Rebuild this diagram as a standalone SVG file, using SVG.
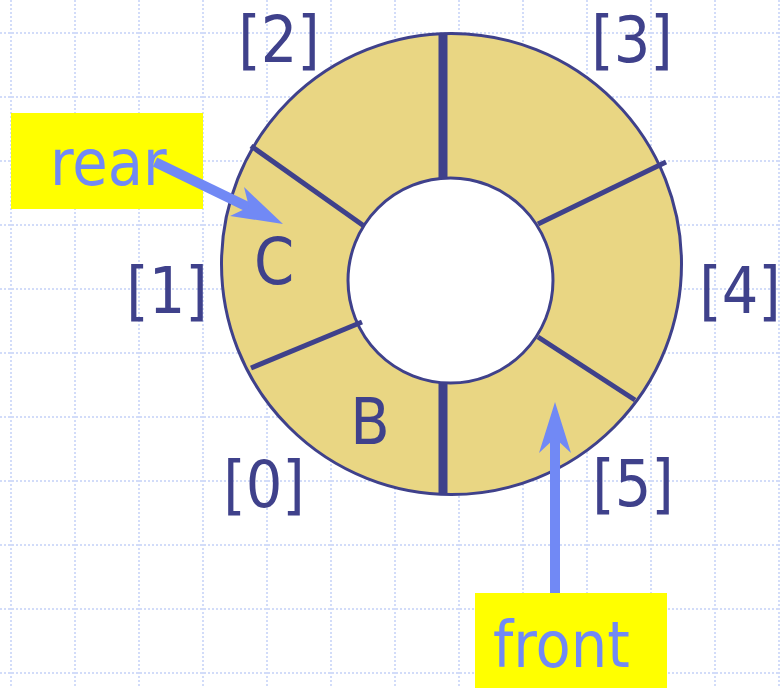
<svg xmlns="http://www.w3.org/2000/svg" width="780" height="688" viewBox="0 0 780 688">
<style>
.grid line{stroke:#d2dcf9;stroke-width:2;stroke-dasharray:2 2}
.lbl{font-family:"DejaVu Sans Condensed","DejaVu Sans",sans-serif;font-size:64px;fill:#3f418b;text-anchor:middle}
.ptr{font-family:"DejaVu Sans Condensed","DejaVu Sans",sans-serif;font-size:64px;fill:#7189f5}
.div{stroke:#3f418b;stroke-width:5}
.vdiv{stroke:#3f418b;stroke-width:9}
.shaft{stroke:#7189f5;stroke-width:10;fill:none}
.head{fill:#7189f5}
.box{fill:#ffff00}
</style>
<rect width="780" height="688" fill="#ffffff"/>
<g class="grid" id="grid">
<line x1="11" y1="0" x2="11" y2="688"/><line x1="75" y1="0" x2="75" y2="688"/><line x1="139" y1="0" x2="139" y2="688"/><line x1="203" y1="0" x2="203" y2="688"/><line x1="267" y1="0" x2="267" y2="688"/><line x1="331" y1="0" x2="331" y2="688"/><line x1="395" y1="0" x2="395" y2="688"/><line x1="459" y1="0" x2="459" y2="688"/><line x1="523" y1="0" x2="523" y2="688"/><line x1="587" y1="0" x2="587" y2="688"/><line x1="651" y1="0" x2="651" y2="688"/><line x1="715" y1="0" x2="715" y2="688"/><line x1="779" y1="0" x2="779" y2="688"/>
<line x1="0" y1="33" x2="780" y2="33"/><line x1="0" y1="97" x2="780" y2="97"/><line x1="0" y1="161" x2="780" y2="161"/><line x1="0" y1="225" x2="780" y2="225"/><line x1="0" y1="289" x2="780" y2="289"/><line x1="0" y1="353" x2="780" y2="353"/><line x1="0" y1="417" x2="780" y2="417"/><line x1="0" y1="481" x2="780" y2="481"/><line x1="0" y1="545" x2="780" y2="545"/><line x1="0" y1="609" x2="780" y2="609"/><line x1="0" y1="673" x2="780" y2="673"/>
</g>
<g id="rear-box"><rect class="box" x="11" y="113" width="192" height="96"/><text class="ptr" x="50" y="185">rear</text></g>
<g id="front-box"><rect class="box" x="475" y="593" width="192" height="95"/><text class="ptr" x="493" y="667">front</text></g>
<g id="ring">
<ellipse cx="451.5" cy="264" rx="230" ry="230.5" fill="#e9d683" stroke="#3f418b" stroke-width="3"/>
<circle cx="450.5" cy="280.5" r="102.5" fill="#ffffff" stroke="#3f418b" stroke-width="3"/>
<line class="vdiv" x1="443" y1="34" x2="443" y2="178"/>
<line class="vdiv" x1="443" y1="383" x2="443" y2="494"/>
<line class="div" x1="251" y1="146" x2="364" y2="226"/>
<line class="div" x1="251" y1="368" x2="362" y2="322"/>
<line class="div" x1="538" y1="224" x2="666" y2="162"/>
<line class="div" x1="538" y1="337" x2="635" y2="400"/>
</g>
<g id="labels">
<text class="lbl" x="279" y="62">[2]</text>
<text class="lbl" x="632" y="62">[3]</text>
<text class="lbl" x="167" y="313">[1]</text>
<text class="lbl" x="740" y="313">[4]</text>
<text class="lbl" x="264" y="507">[0]</text>
<text class="lbl" x="633" y="506">[5]</text>
<text class="lbl" x="274" y="284">C</text>
<text class="lbl" x="370" y="444">B</text>
</g>
<g id="connectors">
<line class="shaft" x1="155" y1="162" x2="250" y2="208"/>
<polygon class="head" points="283,224 244,187 249,207 230,216"/>
<line class="shaft" x1="555" y1="593" x2="555" y2="436"/>
<polygon class="head" points="555,402 571,453 555,438 539,453"/>
</g>
</svg>
